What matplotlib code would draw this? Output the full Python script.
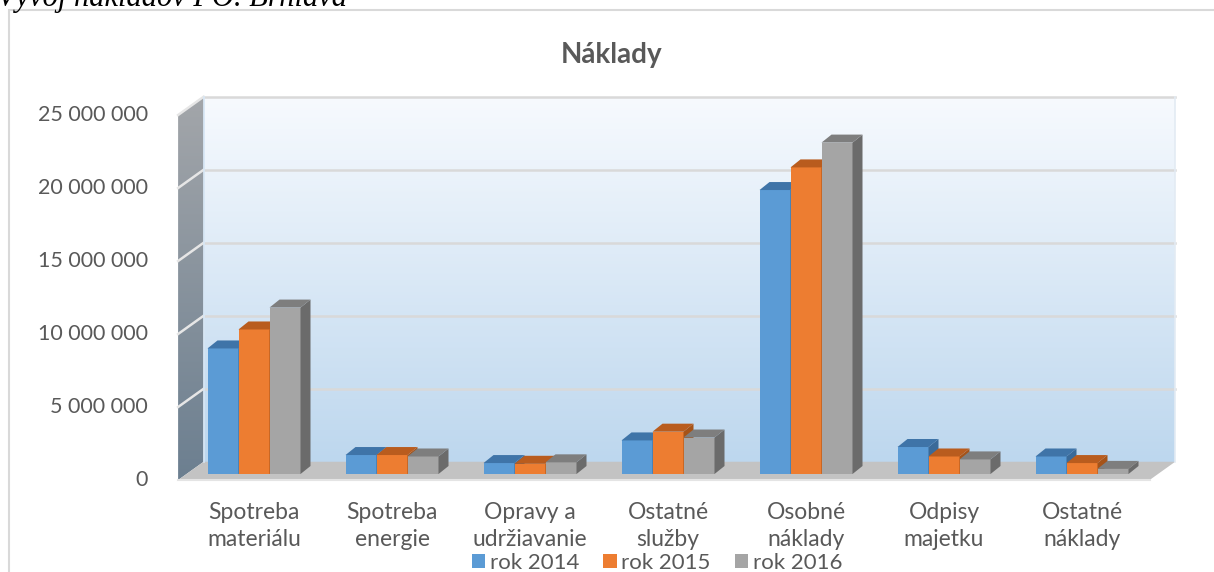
import matplotlib.pyplot as plt
import numpy as np
from matplotlib.patches import Polygon, Rectangle
from matplotlib.colors import LinearSegmentedColormap

categories = ['Spotreba\nmateriálu', 'Spotreba\nenergie', 'Opravy a\nudržiavanie',
              'Ostatné\nslužby', 'Osobné\nnáklady', 'Odpisy\nmajetku', 'Ostatné\nnáklady']
series = ['rok 2014', 'rok 2015', 'rok 2016']
rok_2014 = [8600000, 1300000, 750000, 2300000, 19450000, 1850000, 1200000]
rok_2015 = [9900000, 1300000, 700000, 2900000, 21000000, 1200000, 750000]
rok_2016 = [11400000, 1200000, 800000, 2500000, 22700000, 1000000, 350000]
yticks = [0, 5000000, 10000000, 15000000, 20000000, 25000000]
ytick_labels = ['0', '5 000 000', '10 000 000', '15 000 000', '20 000 000', '25 000 000']

front_col = ['#5B9BD5', '#ED7D31', '#A5A5A5']
top_col = ['#3F74A8', '#B95C1E', '#7E7E7E']
side_col = ['#3A6A99', '#A65318', '#6B6B6B']
txt = '#595959'

plt.rcParams['font.family'] = ['Lato', 'DejaVu Sans']

W, H = 1214, 572
fig = plt.figure(figsize=(W / 100, H / 100), dpi=100)

# pixel geometry of the pseudo 3D plot
px_per_cat = 138.0
px_cat0 = 254.0
py_zero = 480.0
px_per_val = 14.6 / 1e6
left_px, right_px, bot_py, top_py = 150, 1200, 500, 85
ax = fig.add_axes([left_px / W, 1 - bot_py / H, (right_px - left_px) / W, (bot_py - top_py) / H])
xlim = ((left_px - px_cat0) / px_per_cat, (right_px - px_cat0) / px_per_cat)
ylim = ((py_zero - bot_py) / px_per_val, (py_zero - top_py) / px_per_val)

X0, X1 = -0.55, 6.49
DX, DY = 0.185, 1.25e6
VMAX = 25000000


def grad(poly_pts, c_top, c_bot, z):
    cmap = LinearSegmentedColormap.from_list('g', [c_bot, c_top])
    xs = [p[0] for p in poly_pts]
    ys = [p[1] for p in poly_pts]
    img = np.linspace(0, 1, 256).reshape(-1, 1)
    im = ax.imshow(img, extent=[min(xs), max(xs), min(ys), max(ys)], origin='lower',
                   cmap=cmap, aspect='auto', zorder=z)
    patch = Polygon(poly_pts, closed=True, facecolor='none', edgecolor='none')
    ax.add_patch(patch)
    im.set_clip_path(patch)


# back wall, left wall, floor
back = [(X0 + DX, DY), (X1 + DX, DY), (X1 + DX, VMAX + DY), (X0 + DX, VMAX + DY)]
grad(back, '#F7FAFE', '#BDD7EE', 0)
leftw = [(X0, 0), (X0 + DX, DY), (X0 + DX, VMAX + DY), (X0, VMAX)]
grad(leftw, '#A3A6AA', '#6C7F90', 0)
floor = [(X0, 0), (X1, 0), (X1 + DX, DY), (X0 + DX, DY)]
ax.add_patch(Polygon(floor, closed=True, facecolor='#C3C3C3', edgecolor='none', zorder=1))
ax.plot([X0, X1], [0, 0], color='#E4E4E4', lw=1.5, zorder=1)

for v in yticks[1:]:
    ax.plot([X0 + DX, X1 + DX], [v + DY, v + DY], color='#D9D9D9', lw=1.8, zorder=1)
    ax.plot([X0, X0 + DX], [v, v + DY], color='#E6E6E6', lw=1.8, zorder=1)
ax.plot([X1 + DX, X1 + DX], [DY, VMAX + DY], color='#E3EBF3', lw=1.2, zorder=1)
ax.plot([X0 + DX, X0 + DX], [DY, VMAX + DY], color='#D6E6F5', lw=1.2, zorder=1)

# bars
BASE = 0.41e6
bw = 31 / px_per_cat
ddx = 10 / px_per_cat
ddy = 8 / px_per_val
x = np.arange(len(categories))
handles = []
z = 3
for i in range(len(categories)):
    for j, vals in enumerate([rok_2014, rok_2015, rok_2016]):
        xl = x[i] + (j - 1.5) * bw
        h = vals[i]
        b = ax.bar(xl, h, width=bw, bottom=BASE, align='edge', color=front_col[j],
                   edgecolor='none', zorder=z, label=series[j] if i == 0 else None)
        if i == 0:
            handles.append(b)
        top = [(xl, BASE + h), (xl + bw, BASE + h), (xl + bw + ddx, BASE + h + ddy),
               (xl + ddx, BASE + h + ddy)]
        side = [(xl + bw, BASE), (xl + bw + ddx, BASE + ddy),
                (xl + bw + ddx, BASE + h + ddy), (xl + bw, BASE + h)]
        ax.add_patch(Polygon(side, closed=True, facecolor=side_col[j], edgecolor='none', zorder=z))
        ax.add_patch(Polygon(top, closed=True, facecolor=top_col[j], edgecolor='none', zorder=z))
        z += 1

# axis labels
xlab = (148 - px_cat0) / px_per_cat
for v, lab in zip(yticks, ytick_labels):
    ax.text(xlab, v, lab, ha='right', va='center', fontsize=15.5, color=txt, clip_on=False)
for i, lab in enumerate(categories):
    ax.text(x[i], (py_zero - 502) / px_per_val, lab, ha='center', va='top', fontsize=16.5,
            color=txt, linespacing=1.38, clip_on=False)

ax.set_xlim(xlim)
ax.set_ylim(ylim)
ax.axis('off')

fig.text(612 / W, 1 - 55 / H, 'Náklady', ha='center', va='center', fontsize=20,
         fontweight='bold', color=txt)

fig.legend(handles=handles, labels=series, loc='center', bbox_to_anchor=(657 / W, 1 - 563 / H),
           ncol=3, frameon=False, fontsize=16, handlelength=0.6, handleheight=0.6,
           handletextpad=0.2, columnspacing=1.1, labelcolor=txt, borderpad=0)

# chart frame
fig.patches.append(Rectangle((9 / W, -0.1), 1.2, 1 - 10 / H + 0.1, transform=fig.transFigure,
                             fill=False, edgecolor='#D9D9D9', lw=1.5))
fig.text(-3 / W, 1 - 6 / H, 'Vývoj nákladov PO. Brhlava', ha='left', va='baseline',
         fontsize=22, style='italic', family='Liberation Serif', color='black')

fig.savefig('out.png', dpi=100)
